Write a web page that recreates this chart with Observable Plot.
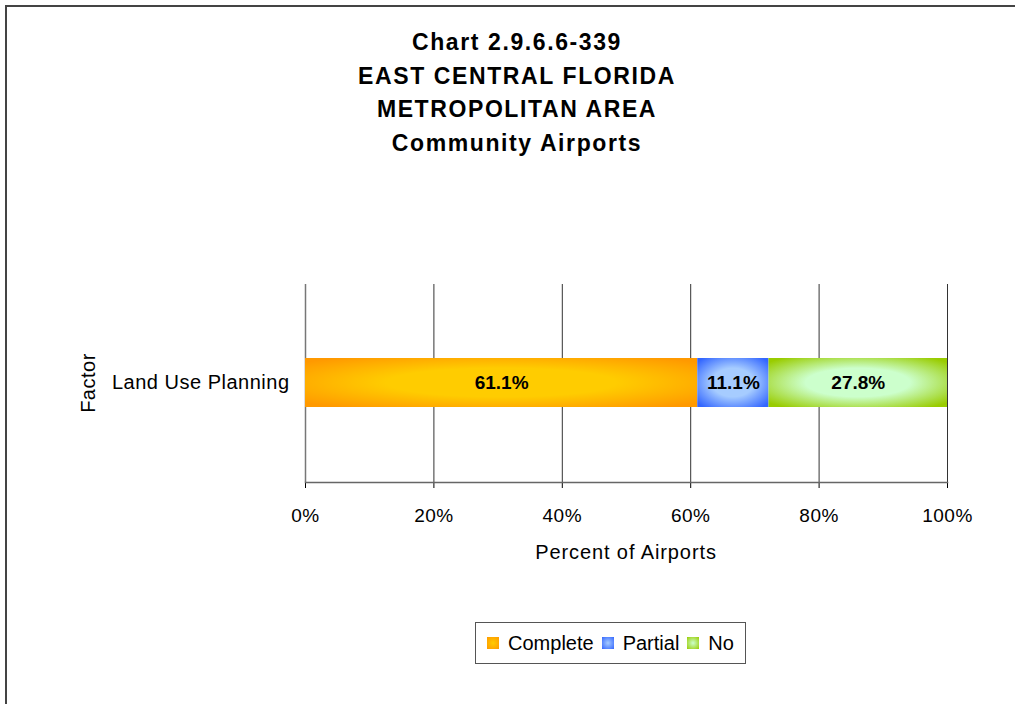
<!DOCTYPE html>
<html><head><meta charset="utf-8">
<script src="https://cdn.jsdelivr.net/npm/d3@7"></script>
<script src="https://cdn.jsdelivr.net/npm/@observablehq/plot@0.6"></script>
<style>
body{margin:0;background:#fff;font-family:"Liberation Sans",Arial,sans-serif;}
#wrap{position:relative;width:1015px;height:704px;overflow:hidden;background:#fff;}
#border{position:absolute;left:5px;top:5px;width:1100px;height:800px;border-top:2px solid #444;border-left:2px solid #444;}
#title{position:absolute;left:0;width:1034px;top:26px;text-align:center;font-weight:bold;font-size:23px;line-height:33.7px;letter-spacing:1.6px;color:#000;}
#chart{position:absolute;left:0;top:0;}
#xlabel{position:absolute;left:426px;width:400px;top:541px;text-align:center;font-size:20px;letter-spacing:0.9px;}
#ylabel{position:absolute;left:88px;top:383px;transform:translate(-50%,-50%) rotate(-90deg);font-size:20px;letter-spacing:0.5px;white-space:nowrap;}
#legend{position:absolute;left:475px;top:622px;width:271px;height:42px;border:1px solid #555;box-sizing:border-box;display:flex;align-items:center;justify-content:center;font-size:20px;gap:0;background:#fff;}
#legend .item{display:flex;align-items:center;margin:0 4px;}
#legend .sw{width:12px;height:12px;margin-right:9px;}
</style></head>
<body>
<div id="wrap">
  <div id="border"></div>
  <div id="chart"></div>
  <div id="title"></div>
  <div id="xlabel"></div>
  <div id="ylabel"></div>
  <div id="legend"></div>
</div>
<script>
const titleLines = ["Chart 2.9.6.6-339", "EAST CENTRAL FLORIDA", "METROPOLITAN AREA", "Community Airports"];
const xAxisLabel = "Percent of Airports";
const yAxisLabel = "Factor";
const factors = ["Land Use Planning"];
const categories = ["Complete", "Partial", "No"];
const values = [61.1, 11.1, 27.8];
const xTicks = [0, 20, 40, 60, 80, 100];
const edgeColors = ["#FF9900", "#3366FF", "#99CC00"];
const centerColors = ["#FFCC00", "#A6CCFF", "#CCFFCC"];
const gradIds = ["gComplete", "gPartial", "gNo"];

const data = categories.map((c, i) => ({factor: factors[0], category: c, value: values[i]}));

document.getElementById("title").innerHTML = titleLines.map(t => `<div>${t}</div>`).join("");
document.getElementById("xlabel").textContent = xAxisLabel;
document.getElementById("ylabel").textContent = yAxisLabel;

const chart = Plot.plot({
  width: 1015, height: 704,
  marginLeft: 305, marginRight: 68, marginTop: 284, marginBottom: 222,
  style: {fontFamily: "Liberation Sans, Arial, sans-serif", fontSize: "19px", background: "transparent", color: "#000"},
  x: {domain: [0, 100], ticks: xTicks, tickFormat: d => d + "%", tickSize: 6, tickPadding: 20, label: null},
  y: {domain: factors, padding: 0.6, tickSize: 0, tickPadding: 16, label: null},
  color: {domain: categories, range: gradIds.map(id => `url(#${id})`)},
  marks: [
    Plot.ruleX(xTicks.slice(1), {stroke: "#333", strokeWidth: 1}),
    Plot.ruleX([0], {stroke: "#777", strokeWidth: 1.5}),
    Plot.frame({anchor: "bottom", stroke: "#666", strokeWidth: 1.5}),
    Plot.barX(data, Plot.stackX({y: "factor", x: "value", fill: "category"})),
    Plot.text(data, Plot.stackX({y: "factor", x: "value", text: d => d.value.toFixed(1) + "%",
      fontWeight: "bold", fontSize: 19, fill: "#000", letterSpacing: "0.6px"}))
  ]
});

const svg = d3.select(chart.tagName.toLowerCase() === "svg" ? chart : chart.querySelector("svg"));
svg.selectAll("[aria-label='x-axis tick label'] text, [aria-label='y-axis tick label'] text").style("letter-spacing", "0.5px");
svg.selectAll("[aria-label='y-axis tick label'] text").style("font-size", "20px");
const defs = svg.insert("defs", ":first-child");
gradIds.forEach((id, i) => {
  const g = defs.append("radialGradient").attr("id", id).attr("cx", "50%").attr("cy", "50%").attr("r", "65%");
  g.append("stop").attr("offset", "0%").attr("stop-color", centerColors[i]);
  g.append("stop").attr("offset", "45%").attr("stop-color", centerColors[i]);
  g.append("stop").attr("offset", "100%").attr("stop-color", edgeColors[i]);
});
document.getElementById("chart").appendChild(chart);

const leg = document.getElementById("legend");
categories.forEach((c, i) => {
  const item = document.createElement("div");
  item.className = "item";
  item.innerHTML = `<span class="sw" style="background:radial-gradient(${centerColors[i]}, ${edgeColors[i]})"></span><span>${c}</span>`;
  leg.appendChild(item);
});
</script>
</body></html>
